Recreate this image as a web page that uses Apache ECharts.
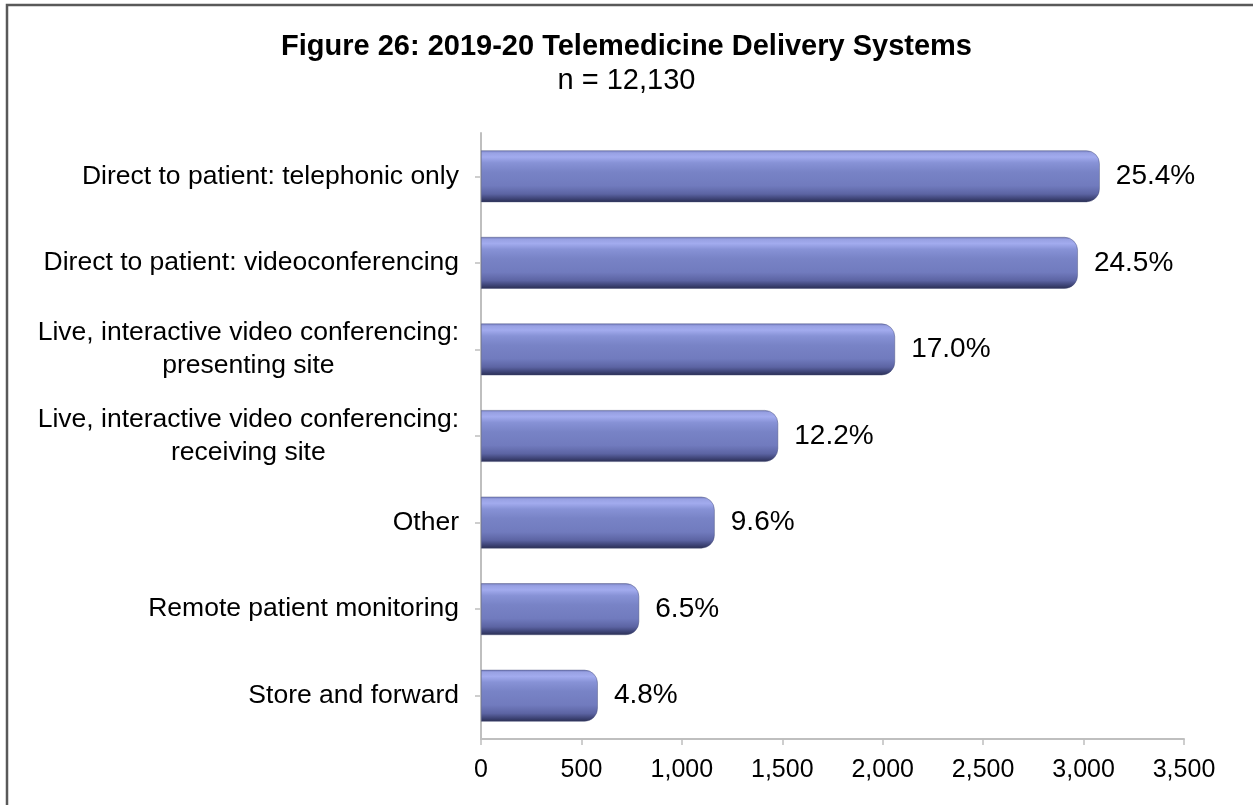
<!DOCTYPE html>
<html>
<head>
<meta charset="utf-8">
<script src="https://cdn.jsdelivr.net/npm/echarts@6/dist/echarts.min.js"></script>
<style>
html,body{margin:0;padding:0;background:#fff;}
#chart{width:1253px;height:805px;}
</style>
</head>
<body>
<div id="chart"></div>
<script>
var categories = [
  "Direct to patient: telephonic only",
  "Direct to patient: videoconferencing",
  "Live, interactive video conferencing:\npresenting site",
  "Live, interactive video conferencing:\nreceiving site",
  "Other",
  "Remote patient monitoring",
  "Store and forward"
];
var counts = [3081, 2972, 2062, 1480, 1164, 788, 582];
var percentLabels = ["25.4%", "24.5%", "17.0%", "12.2%", "9.6%", "6.5%", "4.8%"];
var xTicks = [0, 500, 1000, 1500, 2000, 2500, 3000, 3500];
var titleText = "Figure 26: 2019-20 Telemedicine Delivery Systems";
var subtitleText = "n = 12,130";

var FONT = "Liberation Sans, Arial, sans-serif";
var chart = echarts.init(document.getElementById('chart'), null, {renderer: 'canvas'});

var barGradient = new echarts.graphic.LinearGradient(0, 0, 0, 1, [
  {offset: 0, color: '#6f78b9'},
  {offset: 0.05, color: '#98a1e3'},
  {offset: 0.13, color: '#a2abee'},
  {offset: 0.24, color: '#8792d6'},
  {offset: 0.42, color: '#7883c6'},
  {offset: 0.68, color: '#717bbe'},
  {offset: 0.84, color: '#5c64a3'},
  {offset: 0.94, color: '#3b4172'},
  {offset: 1, color: '#2a2e50'}
]);

var option = {
  backgroundColor: '#ffffff',
  animation: false,
  title: {
    text: titleText,
    subtext: subtitleText,
    left: 'center',
    top: 25,
    itemGap: 0,
    textStyle: {fontFamily: FONT, fontSize: 29, fontWeight: 'bold', color: '#000', lineHeight: 34},
    subtextStyle: {fontFamily: FONT, fontSize: 29, color: '#000', lineHeight: 34}
  },
  graphic: [{
    type: 'rect',
    shape: {x: 7, y: 5, width: 1300, height: 900},
    style: {fill: 'none', stroke: '#595959', lineWidth: 2.5},
    silent: true
  }],
  grid: {left: 481, right: 69, top: 133, bottom: 66, outerBoundsMode: 'none'},
  xAxis: {
    type: 'value',
    min: xTicks[0],
    max: xTicks[xTicks.length - 1],
    interval: xTicks[1] - xTicks[0],
    axisLine: {show: true, lineStyle: {color: '#bfbfbf', width: 2}},
    axisTick: {show: true, length: 6, lineStyle: {color: '#bfbfbf', width: 1.5}},
    splitLine: {show: false},
    axisLabel: {
      margin: 19,
      fontFamily: FONT, fontSize: 25, color: '#000',
      formatter: function (v) { return v.toLocaleString('en-US'); }
    }
  },
  yAxis: {
    type: 'category',
    data: categories,
    inverse: true,
    axisLine: {show: true, lineStyle: {color: '#bfbfbf', width: 2}},
    axisTick: {show: true, alignWithLabel: true, length: 6, lineStyle: {color: '#bfbfbf', width: 1.5}},
    axisLabel: {
      margin: 22,
      align: 'right',
      fontFamily: FONT, fontSize: 26.5, color: '#000', lineHeight: 33,
      formatter: function (v) {
        return v.split('\n').map(function (l) { return '{c|' + l + '}'; }).join('\n');
      },
      rich: {
        c: {align: 'center', fontFamily: FONT, fontSize: 26.5, color: '#000', lineHeight: 33}
      }
    }
  },
  series: [{
    type: 'bar',
    data: counts,
    barWidth: 52,
    itemStyle: {
      color: barGradient,
      borderRadius: [0, 13, 13, 0],
      borderColor: 'rgba(70,75,120,0.55)',
      borderWidth: 0.8
    },
    label: {
      show: true,
      position: 'right',
      distance: 16,
      fontFamily: FONT, fontSize: 28, color: '#000',
      formatter: function (p) { return percentLabels[p.dataIndex]; }
    }
  }]
};
chart.setOption(option);
</script>
</body>
</html>
